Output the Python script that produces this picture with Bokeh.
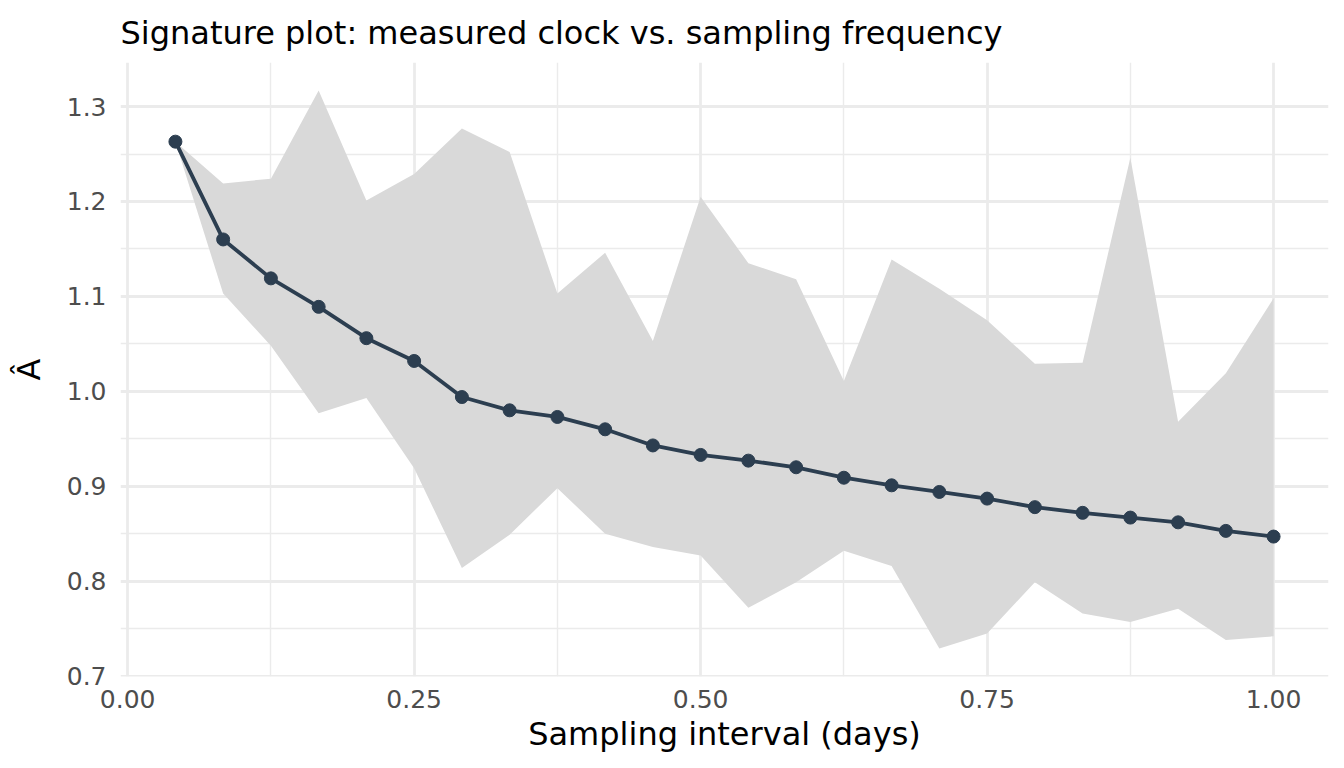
from bokeh.plotting import figure
from bokeh.models import Range1d, FixedTicker, PrintfTickFormatter, ColumnDataSource
from bokeh.embed import file_html
from bokeh.resources import INLINE

# Sampling interval in hours (converted to days below)
sampling_hours = [1, 2, 3, 4, 5, 6, 7, 8, 9, 10, 11, 12,
                  13, 14, 15, 16, 17, 18, 19, 20, 21, 22, 23, 24]
a_hat = [1.263, 1.160, 1.119, 1.089, 1.056, 1.032, 0.994, 0.980, 0.973, 0.960, 0.943, 0.933,
         0.927, 0.920, 0.909, 0.901, 0.894, 0.887, 0.878, 0.872, 0.867, 0.862, 0.853, 0.847]
band_upper = [1.263, 1.219, 1.224, 1.317, 1.201, 1.229, 1.277, 1.252, 1.103, 1.146, 1.053, 1.205,
              1.135, 1.118, 1.011, 1.139, 1.108, 1.075, 1.029, 1.030, 1.246, 0.968, 1.019, 1.098]
band_lower = [1.263, 1.103, 1.048, 0.977, 0.993, 0.919, 0.814, 0.849, 0.898, 0.850, 0.836, 0.827,
              0.772, 0.799, 0.832, 0.816, 0.729, 0.745, 0.799, 0.766, 0.757, 0.771, 0.738, 0.742]

x_ticks = [0.0, 0.25, 0.5, 0.75, 1.0]
x_minor = [0.125, 0.375, 0.625, 0.875]
y_ticks = [0.7, 0.8, 0.9, 1.0, 1.1, 1.2, 1.3]
y_minor = [0.75, 0.85, 0.95, 1.05, 1.15, 1.25]

title_text = "Signature plot: measured clock vs. sampling frequency"
x_label = "Sampling interval (days)"
y_label = "\u00c2"

x_days = [h / 24 for h in sampling_hours]
src = ColumnDataSource(dict(x=x_days, y=a_hat, lo=band_lower, hi=band_upper))

# ggplot-style 5% expansion
xmin, xmax = min(x_days), max(x_days)
ymin, ymax = min(band_lower + a_hat), max(band_upper + a_hat)
xp, yp = 0.05 * (xmax - xmin), 0.05 * (ymax - ymin)

FONT = "DejaVu Sans"

p = figure(width=1336, height=760, output_backend="svg", toolbar_location=None,
           x_range=Range1d(xmin - xp, xmax + xp), y_range=Range1d(ymin - yp, ymax + yp),
           min_border_left=120, min_border_right=8, min_border_top=62, min_border_bottom=84,
           title=title_text)

p.background_fill_color = "white"
p.border_fill_color = "white"
p.outline_line_color = None

p.title.text_font = FONT
p.title.text_font_size = "32px"
p.title.text_font_style = "normal"
p.title.text_color = "black"
p.title.align = "left"
p.title.offset = 0
p.title.standoff = 22

p.xaxis.ticker = FixedTicker(ticks=x_ticks, minor_ticks=x_minor)
p.yaxis.ticker = FixedTicker(ticks=y_ticks, minor_ticks=y_minor)
p.xaxis.formatter = PrintfTickFormatter(format="%.2f")
p.yaxis.formatter = PrintfTickFormatter(format="%.1f")

for ax in (p.xaxis, p.yaxis):
    ax.axis_line_color = None
    ax.major_tick_line_color = None
    ax.minor_tick_line_color = None
    ax.major_tick_out = 0
    ax.major_tick_in = 0
    ax.minor_tick_out = 0
    ax.minor_tick_in = 0
    ax.major_label_text_font = FONT
    ax.major_label_text_font_size = "25px"
    ax.major_label_text_color = "#4D4D4D"
    ax.axis_label_text_font = FONT
    ax.axis_label_text_font_size = "32px"
    ax.axis_label_text_font_style = "normal"
    ax.axis_label_text_color = "black"

p.xaxis.axis_label = x_label
p.yaxis.axis_label = y_label
p.xaxis.major_label_standoff = 13
p.yaxis.major_label_standoff = 14
p.xaxis.axis_label_standoff = 4
p.yaxis.axis_label_standoff = 16

for g in (p.xgrid, p.ygrid):
    g.grid_line_color = "#EBEBEB"
    g.grid_line_width = 2.8
    g.minor_grid_line_color = "#EBEBEB"
    g.minor_grid_line_width = 1.4

p.varea(x="x", y1="lo", y2="hi", source=src, fill_color="#D9D9D9", fill_alpha=1.0)
p.line(x="x", y="y", source=src, line_color="#2C3E50", line_width=3.8)
p.scatter(x="x", y="y", source=src, size=13, fill_color="#2C3E50", line_color="#2C3E50")

open("out.html", "w").write(file_html(p, INLINE))
